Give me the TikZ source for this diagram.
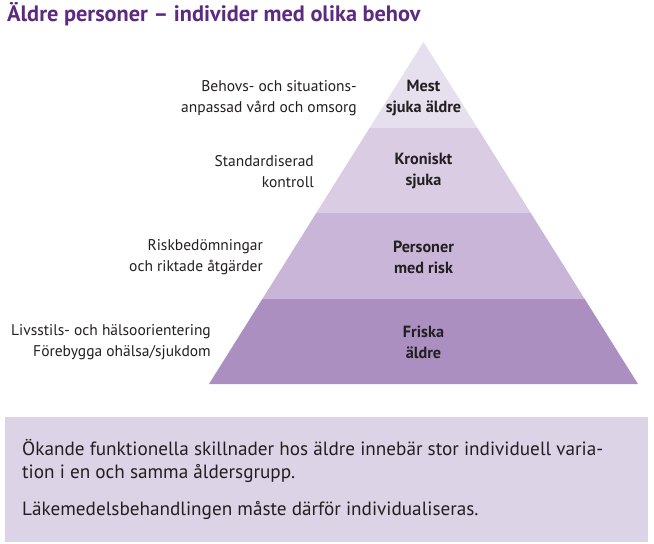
\documentclass[tikz,border=0pt]{standalone}
\usepackage{fontspec}
\setmainfont{PT Sans}
\usetikzlibrary{calc}
\definecolor{titlepurple}{HTML}{5C2A7F}
\definecolor{textgray}{HTML}{231F20}
\definecolor{bandA}{HTML}{E6DFED}
\definecolor{bandB}{HTML}{D9CCE3}
\definecolor{bandC}{HTML}{C9B5D8}
\definecolor{bandD}{HTML}{AB8FC1}
\definecolor{boxfill}{HTML}{DDD3E6}

\begin{document}
\begin{tikzpicture}[x=1pt,y=-1pt,
    level/.style={inner sep=0pt,align=center,text=textgray,font=\fontsize{16.2}{21}\selectfont\bfseries},
    need/.style={inner sep=0pt,align=right,anchor=east,text=textgray,font=\fontsize{15.5}{21}\selectfont}]
            \useasboundingbox (0,0) rectangle (654,544);
            \node[anchor=base west,inner sep=0pt,text=titlepurple,font=\fontsize{22.3}{24}\selectfont\bfseries] (title) at (7,21) {Äldre personer – individer med olika behov};
            % pyramid
            \coordinate (apex) at (423.5,42);
            \coordinate (bl) at (209,384);
            \coordinate (br) at (638,384);
            \foreach \a/\b/\c in {0/0.25/bandA,0.25/0.5/bandB,0.5/0.75/bandC,0.75/1/bandD}
                \fill[\c] ($(apex)!\a!(bl)$)--($(apex)!\b!(bl)$)--($(apex)!\b!(br)$)--($(apex)!\a!(br)$)--cycle;
            \node[level] (mest) at (423.5,98) {Mest\\sjuka äldre};
            \node[level] (kron) at (423.5,171) {Kroniskt\\sjuka};
            \node[level] (risk) at (423.5,257) {Personer\\med risk};
            \node[level] (frisk) at (423.5,342) {Friska\\äldre};
            \node[need] (vard) at (357,98.5) {Behovs- och situations-\\anpassad vård och omsorg};
            \node[need] (kontroll) at (314,171.5) {Standardiserad\\kontroll};
            \node[need] (atgard) at (263,257.5) {Riskbedömningar\\och riktade åtgärder};
            \node[need] (livsstil) at (211,342.5) {Livsstils- och hälsoorientering\\Förebygga ohälsa/sjukdom};
            % box
            \fill[boxfill] (5,417) rectangle (648,542);
            \node[anchor=north west,inner sep=0pt,align=left,text=textgray,font=\fontsize{19.2}{23}\selectfont] (note) at (22,439) {Ökande funktionella skillnader hos äldre innebär stor individuell varia-\\tion i en och samma åldersgrupp.\\[14pt]Läkemedelsbehandlingen måste därför individualiseras.};
        \end{tikzpicture}
\end{document}
